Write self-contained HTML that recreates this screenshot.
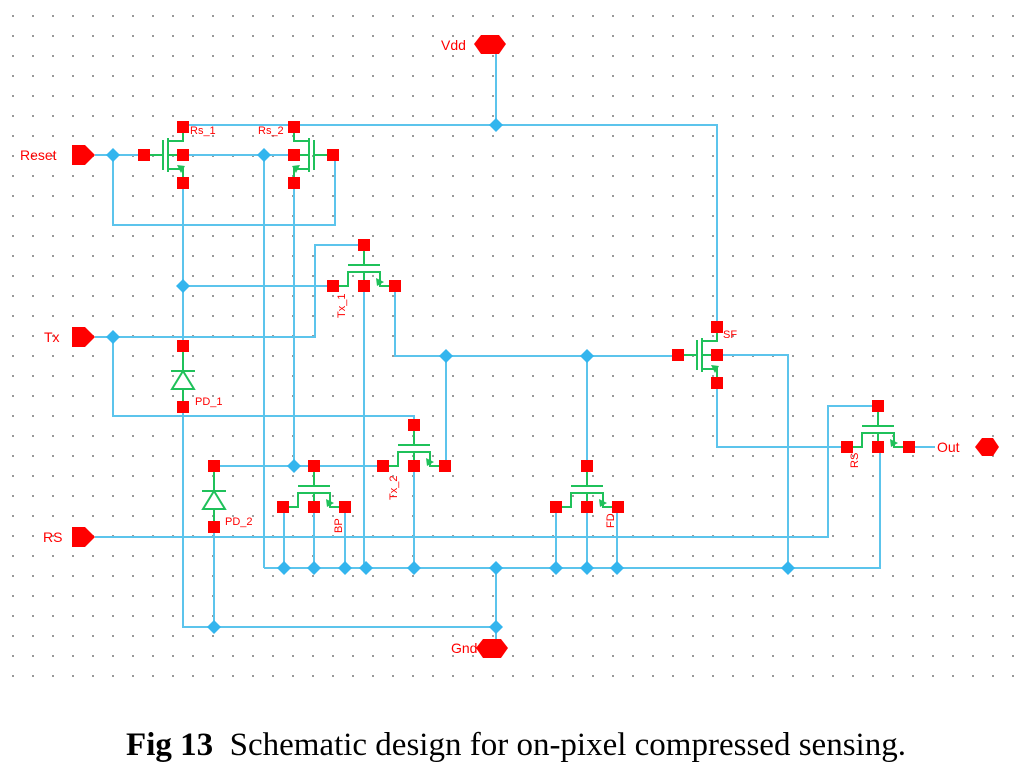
<!DOCTYPE html>
<html><head><meta charset="utf-8"><style>
html,body{margin:0;padding:0;background:#fff;width:1032px;height:773px;overflow:hidden}
svg{position:absolute;left:0;top:0}
.cap{position:absolute;left:0;width:1032px;top:727px;text-align:center;font-family:"Liberation Serif",serif;font-size:33px;color:#000;white-space:nowrap}
</style></head><body>
<svg width="1032" height="773" xmlns="http://www.w3.org/2000/svg">
<defs>
<pattern id="dots" x="12" y="15" width="20" height="20" patternUnits="userSpaceOnUse">
<rect x="0" y="0" width="2" height="2" fill="#999"/>
</pattern>
<g id="ht">
<line x1="0" y1="0" x2="0" y2="20" stroke="#1fc15a" stroke-width="2"/>
<line x1="-16" y1="20" x2="16" y2="20" stroke="#1fc15a" stroke-width="2"/>
<polyline points="-31,41 -16,41 -16,27 16,27 16,41 31,41" fill="none" stroke="#1fc15a" stroke-width="2"/>
<line x1="0" y1="27" x2="0" y2="41" stroke="#1fc15a" stroke-width="2"/>
<polygon points="12,33 20,37 13,41" fill="#1fc15a"/>
<rect x="-6" y="-6" width="12" height="12" fill="#f00"/>
<rect x="-37" y="35" width="12" height="12" fill="#f00"/>
<rect x="-6" y="35" width="12" height="12" fill="#f00"/>
<rect x="25" y="35" width="12" height="12" fill="#f00"/>
</g>
<g id="vt">
<line x1="-39" y1="0" x2="-20" y2="0" stroke="#1fc15a" stroke-width="2"/>
<line x1="-20" y1="-15" x2="-20" y2="15" stroke="#1fc15a" stroke-width="2"/>
<line x1="-15" y1="-17" x2="-15" y2="17" stroke="#1fc15a" stroke-width="2"/>
<polyline points="-15,-14 0,-14 0,-28" fill="none" stroke="#1fc15a" stroke-width="2"/>
<polyline points="-15,14 0,14 0,28" fill="none" stroke="#1fc15a" stroke-width="2"/>
<line x1="-15" y1="0" x2="0" y2="0" stroke="#1fc15a" stroke-width="2"/>
<polygon points="-6,10 -2,18 2,11" fill="#1fc15a"/>
<rect x="-45" y="-6" width="12" height="12" fill="#f00"/>
<rect x="-6" y="-6" width="12" height="12" fill="#f00"/>
<rect x="-6" y="-34" width="12" height="12" fill="#f00"/>
<rect x="-6" y="22" width="12" height="12" fill="#f00"/>
</g>
<g id="dio">
<line x1="0" y1="0" x2="0" y2="61" stroke="#1fc15a" stroke-width="2"/>
<line x1="-12" y1="25" x2="12" y2="25" stroke="#1fc15a" stroke-width="2"/>
<polygon points="0,25 -11,43 11,43" fill="#fff" stroke="#1fc15a" stroke-width="2"/>
<rect x="-6" y="-6" width="12" height="12" fill="#f00"/>
<rect x="-6" y="55" width="12" height="12" fill="#f00"/>
</g>
<g id="jn"><polygon points="0,-7 7,0 0,7 -7,0" fill="#33b5ee"/></g>
</defs>
<rect width="1032" height="680" fill="url(#dots)"/>
<g stroke="#5cc4ec" stroke-width="2" fill="none">
<polyline points="496,54 496,125"/>
<polyline points="183,125 717,125 717,326"/>
<polyline points="95,155 144,155"/>
<polyline points="183,155 294,155"/>
<polyline points="113,155 113,225 335,225 335,155"/>
<polyline points="183,183 183,346"/>
<polyline points="183,286 333,286"/>
<polyline points="264,155 264,568"/>
<polyline points="294,183 294,466"/>
<polyline points="95,337 315,337 315,245 364,245"/>
<polyline points="364,286 364,568"/>
<polyline points="395,286 395,356 676,356"/>
<polyline points="446,356 446,466"/>
<polyline points="587,356 587,466"/>
<polyline points="113,337 113,416 414,416 414,425"/>
<polyline points="214,466 384,466"/>
<polyline points="414,466 414,568"/>
<polyline points="183,407 183,627 496,627"/>
<polyline points="214,527 214,627"/>
<polyline points="496,568 496,648"/>
<polyline points="264,568 880,568 880,447"/>
<polyline points="284,506 284,568"/><polyline points="314,506 314,568"/><polyline points="345,506 345,568"/>
<polyline points="556,506 556,568"/><polyline points="587,506 587,568"/><polyline points="617,506 617,568"/>
<polyline points="717,355 788,355 788,568"/>
<polyline points="95,537 828,537 828,406 878,406"/>
<polyline points="717,385 717,447 847,447"/>
<polyline points="909,447 935,447"/>
</g>
<use href="#vt" x="183" y="155"/>
<use href="#vt" transform="translate(294,155) scale(-1,1)"/>
<use href="#vt" x="717" y="355"/>
<use href="#ht" x="364" y="245"/>
<use href="#ht" x="414" y="425"/>
<use href="#ht" x="314" y="466"/>
<use href="#ht" x="587" y="466"/>
<use href="#ht" x="878" y="406"/>
<use href="#dio" x="183" y="346"/>
<use href="#dio" x="214" y="466"/>
<use href="#jn" x="113" y="155"/><use href="#jn" x="264" y="155"/><use href="#jn" x="496" y="125"/>
<use href="#jn" x="183" y="286"/><use href="#jn" x="113" y="337"/><use href="#jn" x="446" y="356"/>
<use href="#jn" x="587" y="356"/><use href="#jn" x="294" y="466"/>
<use href="#jn" x="284" y="568"/><use href="#jn" x="314" y="568"/><use href="#jn" x="345" y="568"/>
<use href="#jn" x="366" y="568"/><use href="#jn" x="414" y="568"/><use href="#jn" x="496" y="568"/>
<use href="#jn" x="556" y="568"/><use href="#jn" x="587" y="568"/><use href="#jn" x="617" y="568"/>
<use href="#jn" x="788" y="568"/><use href="#jn" x="214" y="627"/><use href="#jn" x="496" y="627"/>
<g fill="#f00">
<polygon points="72,145 85,145 95,155 85,165 72,165"/>
<polygon points="72,327 85,327 95,337 85,347 72,347"/>
<polygon points="72,527 85,527 95,537 85,547 72,547"/>
<polygon points="481,35 499,35 506,44 499,54 481,54 474,44"/>
<polygon points="483,639 501,639 508,648 501,658 483,658 476,648"/>
<polygon points="982,438 993,438 999,447 993,456 982,456 975,447"/>
</g>
<g fill="#f00" font-family="Liberation Sans,sans-serif" font-size="14">
<text x="20" y="160">Reset</text>
<text x="44" y="342">Tx</text>
<text x="43" y="542">RS</text>
<text x="441" y="50">Vdd</text>
<text x="451" y="653">Gnd</text>
<text x="937" y="452">Out</text>
<g font-size="11">
<text x="190" y="134">Rs_1</text>
<text x="258" y="134">Rs_2</text>
<text x="195" y="405">PD_1</text>
<text x="225" y="525">PD_2</text>
<text x="723" y="338">SF</text>
<text transform="translate(345,318) rotate(-90)">Tx_1</text>
<text transform="translate(397,500) rotate(-90)">Tx_2</text>
<text transform="translate(342,533) rotate(-90)">BP</text>
<text transform="translate(614,528) rotate(-90)">FD</text>
<text transform="translate(858,468) rotate(-90)">RS</text>
</g></g>
</svg>
<div class="cap"><b>Fig 13</b>&nbsp; Schematic design for on-pixel compressed sensing.</div>
</body></html>
